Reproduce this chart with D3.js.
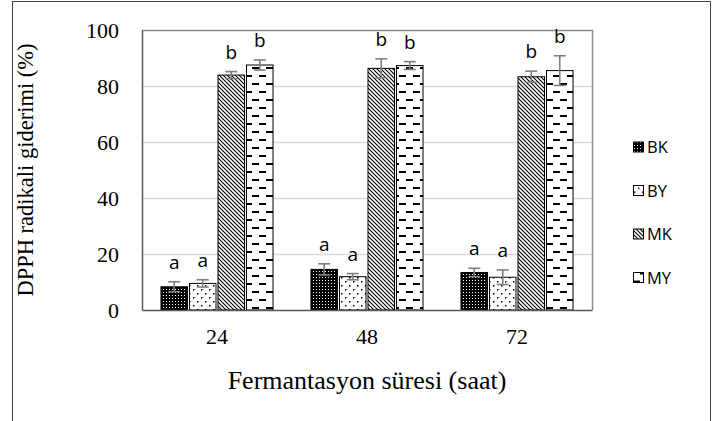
<!DOCTYPE html>
<html>
<head>
<meta charset="utf-8">
<script src="https://cdn.jsdelivr.net/npm/d3@7"></script>
<style>
  body { margin: 0; background: #fff; }
  svg { display: block; }
</style>
</head>
<body>
<div id="viz"></div>
<script>
var categories = ["24", "48", "72"];
var seriesNames = ["BK", "BY", "MK", "MY"];
var bkValues = [8.3, 14.5, 13.4];
var byValues = [9.5, 11.9, 11.7];
var mkValues = [83.9, 86.3, 83.3];
var myValues = [87.5, 87.3, 85.5];
var bkErr = [1.8, 2.0, 1.5];
var byErr = [1.3, 1.1, 2.6];
var mkErr = [1.25, 3.4, 2.0];
var myErr = [1.8, 1.4, 5.3];
var letters = ["a", "a", "b", "b"];
var yTicks = [0, 20, 40, 60, 80, 100];

var allValues = [bkValues, byValues, mkValues, myValues];
var allErr = [bkErr, byErr, mkErr, myErr];

var width = 715,
    height = 421;

var plotL = 142, plotR = 592, plotT = 30, plotB = 310;

var svg = d3.select("#viz")
  .append("svg")
    .attr("width", width)
    .attr("height", height);

// patterns
var defs = svg.append("defs");

var p1 = defs.append("pattern").attr("id", "pat-BK")
    .attr("patternUnits", "userSpaceOnUse").attr("width", 3).attr("height", 3);
p1.append("rect").attr("width", 3).attr("height", 3).attr("fill", "#000");
p1.append("rect").attr("x", 1).attr("y", 1).attr("width", 1).attr("height", 1).attr("fill", "#fff");

var p2 = defs.append("pattern").attr("id", "pat-BY")
    .attr("patternUnits", "userSpaceOnUse").attr("width", 8).attr("height", 8);
p2.append("rect").attr("width", 8).attr("height", 8).attr("fill", "#fff");
p2.append("rect").attr("x", 1).attr("y", 1).attr("width", 1.5).attr("height", 1.5).attr("fill", "#000");
p2.append("rect").attr("x", 5).attr("y", 5).attr("width", 1.5).attr("height", 1.5).attr("fill", "#000");

var p3 = defs.append("pattern").attr("id", "pat-MK")
    .attr("patternUnits", "userSpaceOnUse").attr("width", 4).attr("height", 4);
p3.append("rect").attr("width", 4).attr("height", 4).attr("fill", "#fff");
p3.append("path").attr("d", "M-1,-1L5,5M-1,3L1,5M3,-1L5,1")
    .attr("stroke", "#000").attr("stroke-width", 1.1);

var p4 = defs.append("pattern").attr("id", "pat-MY")
    .attr("patternUnits", "userSpaceOnUse").attr("width", 14).attr("height", 16);
p4.append("rect").attr("width", 14).attr("height", 16).attr("fill", "#fff");
p4.append("rect").attr("x", 0).attr("y", 3).attr("width", 7).attr("height", 2).attr("fill", "#000");
p4.append("rect").attr("x", 7).attr("y", 11).attr("width", 7).attr("height", 2).attr("fill", "#000");

// outer frame
svg.append("rect")
    .attr("x", 12.5).attr("y", 1.5)
    .attr("width", 698).attr("height", 440)
    .attr("fill", "none")
    .attr("stroke", "#444")
    .attr("stroke-width", 1);

var x0 = d3.scaleBand()
    .domain(categories)
    .range([plotL, plotR])
    .paddingInner(0.253)
    .paddingOuter(0.1265);

var x1 = d3.scaleBand()
    .domain(seriesNames)
    .range([0, x0.bandwidth()])
    .paddingInner(0.07);

var y = d3.scaleLinear()
    .domain([0, 100])
    .range([plotB, plotT]);

// gridlines
svg.append("g").selectAll("line")
  .data(yTicks.filter(function(d) { return d > 0 && d < 100; }))
  .enter().append("line")
    .attr("x1", plotL).attr("x2", plotR)
    .attr("y1", function(d) { return Math.round(y(d)) + 0.5; })
    .attr("y2", function(d) { return Math.round(y(d)) + 0.5; })
    .attr("stroke", "#d9d9d9")
    .attr("stroke-width", 1.5);

// plot box top and right
svg.append("path")
    .attr("d", "M" + plotL + "," + (plotT + 0.5) + "H" + (plotR + 0.5) + "V" + plotB)
    .attr("fill", "none")
    .attr("stroke", "#8c8c8c")
    .attr("stroke-width", 1.5);

// bars
var rows = [];
categories.forEach(function(c, i) {
  seriesNames.forEach(function(s, j) {
    rows.push({cat: c, s: s, j: j, v: allValues[j][i], e: allErr[j][i]});
  });
});

var bars = svg.append("g");
bars.selectAll("rect")
  .data(rows)
  .enter().append("rect")
    .attr("x", function(d) { return x0(d.cat) + x1(d.s); })
    .attr("y", function(d) { return y(d.v); })
    .attr("width", x1.bandwidth())
    .attr("height", function(d) { return y(0) - y(d.v); })
    .attr("fill", function(d) { return "url(#pat-" + d.s + ")"; })
    .attr("stroke", "#000")
    .attr("stroke-width", 1);

// error bars
var eb = svg.append("g").attr("stroke", "#7f7f7f").attr("stroke-width", 1.6);
rows.forEach(function(d) {
  var cx = x0(d.cat) + x1(d.s) + x1.bandwidth() / 2;
  eb.append("line").attr("x1", cx).attr("x2", cx)
    .attr("y1", y(d.v + d.e)).attr("y2", y(d.v - d.e));
  eb.append("line").attr("x1", cx - 6).attr("x2", cx + 6)
    .attr("y1", y(d.v + d.e)).attr("y2", y(d.v + d.e));
  eb.append("line").attr("x1", cx - 6).attr("x2", cx + 6)
    .attr("y1", y(d.v - d.e)).attr("y2", y(d.v - d.e));
});

// letters
svg.append("g").selectAll("text")
  .data(rows)
  .enter().append("text")
    .attr("x", function(d) { return x0(d.cat) + x1(d.s) + x1.bandwidth() / 2; })
    .attr("y", function(d) { return y(d.v + d.e) - 13; })
    .attr("text-anchor", "middle")
    .attr("font-family", "Open Sans, sans-serif")
    .attr("font-size", 19)
    .attr("fill", "#000")
    .text(function(d) { return letters[d.j]; });

// axes
var yAxis = svg.append("g")
    .attr("transform", "translate(" + plotL + ",0)")
    .call(d3.axisLeft(y).tickValues(yTicks).tickSize(0).tickPadding(23));
yAxis.select(".domain").attr("stroke", "#595959").attr("stroke-width", 1.5);
yAxis.selectAll("text")
    .attr("font-family", "Liberation Serif, serif")
    .attr("font-size", 22)
    .attr("fill", "#000");

var xAxis = svg.append("g")
    .attr("transform", "translate(0," + plotB + ")")
    .call(d3.axisBottom(x0).tickSize(0).tickPadding(18));
xAxis.select(".domain").attr("stroke", "#595959").attr("stroke-width", 1.5);
xAxis.selectAll("text")
    .attr("font-family", "Liberation Serif, serif")
    .attr("font-size", 22)
    .attr("fill", "#000");

// axis titles
svg.append("text")
    .attr("x", (plotL + plotR) / 2)
    .attr("y", 389)
    .attr("text-anchor", "middle")
    .attr("font-family", "Liberation Serif, serif")
    .attr("font-size", 26)
    .text("Fermantasyon süresi (saat)");

svg.append("text")
    .attr("transform", "translate(33," + ((plotT + plotB) / 2) + ") rotate(-90)")
    .attr("text-anchor", "middle")
    .attr("font-family", "Liberation Serif, serif")
    .attr("font-size", 22.5)
    .text("DPPH radikali giderimi (%)");

// legend
var legend = svg.append("g").selectAll("g")
  .data(seriesNames)
  .enter().append("g")
    .attr("transform", function(d, i) { return "translate(633," + (147 + i * 43.5) + ")"; });
legend.append("rect")
    .attr("x", 0.5).attr("y", -5)
    .attr("width", 10).attr("height", 10)
    .attr("fill", function(d) { return "url(#pat-" + d + ")"; })
    .attr("stroke", "#000")
    .attr("stroke-width", 1);
legend.append("text")
    .attr("x", 14)
    .attr("y", 6)
    .attr("font-family", "Open Sans, sans-serif")
    .attr("font-size", 16.5)
    .attr("fill", "#000")
    .text(function(d) { return d; });
</script>
</body>
</html>
